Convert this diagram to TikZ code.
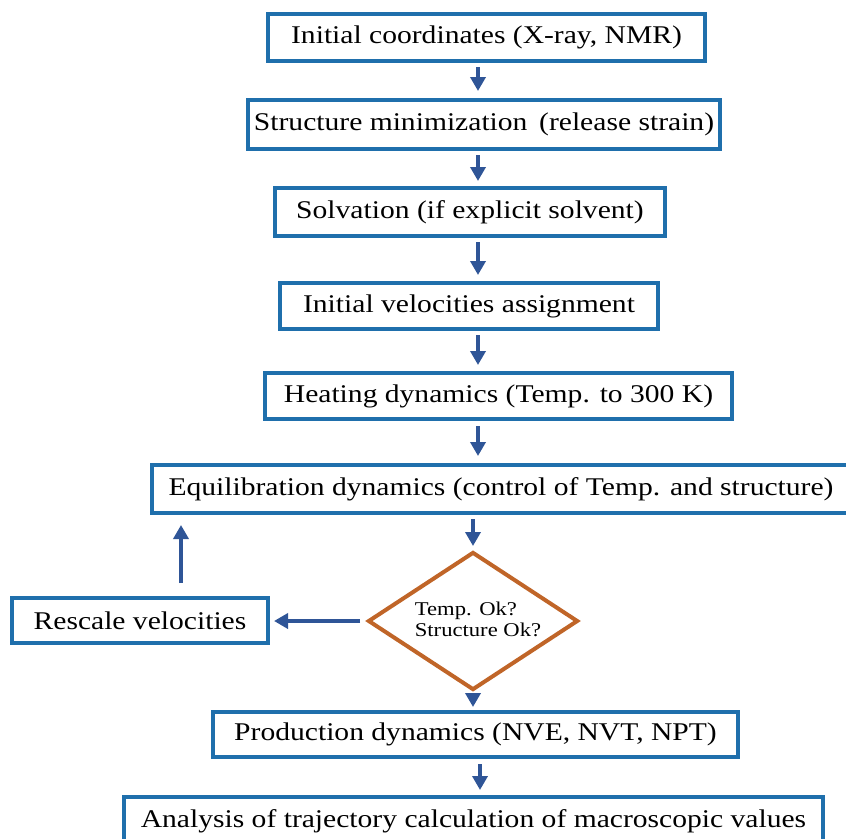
\documentclass[tikz,border=0pt]{standalone}
\usepackage{fontspec}
\setmainfont{Liberation Serif}[FakeStretch=1.16]
\usetikzlibrary{arrows.meta,shapes.geometric}
\definecolor{boxblue}{RGB}{31,111,172}
\definecolor{arrblue}{RGB}{47,85,151}
\definecolor{dorange}{RGB}{192,101,40}
\begin{document}
\begin{tikzpicture}[x=1pt,y=-1pt,
  box/.style={draw=boxblue, line width=4pt, inner sep=0pt, fill=white,
    font=\fontsize{25.5}{28}\selectfont, anchor=center},
  arr/.style={draw=arrblue, line width=4.5pt, -{Triangle[length=14pt,width=15pt]}},
  decision/.style={diamond, draw=dorange, line width=4pt, inner sep=0pt},
  dtext/.style={align=left, inner sep=0pt, font=\fontsize{19.5}{21}\selectfont}]
\useasboundingbox (0,0) rectangle (846,838);
\node[box, minimum width=437pt, minimum height=47pt] (b1) at (486.5,37.5) {Initial coordinates (X-ray, NMR)};
\node[box, minimum width=472pt, minimum height=49pt] (b2) at (484,124.5) {Structure minimization\, (release strain)};
\node[box, minimum width=390pt, minimum height=48pt] (b3) at (470,212) {Solvation (if explicit solvent)};
\node[box, minimum width=378pt, minimum height=46pt] (b4) at (469,306) {Initial velocities assignment};
\node[box, minimum width=467pt, minimum height=46pt] (b5) at (498.5,396) {Heating dynamics (Temp. to 300 K)};
\node[box, minimum width=698pt, minimum height=48pt] (b6) at (501,489) {Equilibration dynamics (control of Temp. and structure)\hspace{6pt}};
\node[decision, minimum width=210pt, minimum height=138pt] (d) at (473,621) {};
\node[dtext] (dt) at (478,619) {Temp. Ok?\\Structure Ok?};
\node[box, minimum width=256pt, minimum height=45pt] (rs) at (140,620.5) {Rescale velocities};
\node[box, minimum width=525pt, minimum height=45pt] (b7) at (475.5,734.5) {Production dynamics (NVE, NVT, NPT)};
\node[box, minimum width=699pt, minimum height=48pt] (b8) at (473.5,821) {\raisebox{2pt}{Analysis of trajectory calculation of macroscopic values}};
\coordinate (c1) at (478,0);
\coordinate (c2) at (473,0);
\coordinate (c3) at (480,0);
\coordinate (c4) at (181,0);
\draw[arr, shorten <=4pt, shorten >=7pt] (b1.south -| c1) -- (b2.north -| c1);
\draw[arr, shorten <=4pt, shorten >=5pt] (b2.south -| c1) -- (b3.north -| c1);
\draw[arr, shorten <=4pt, shorten >=6pt] (b3.south -| c1) -- (b4.north -| c1);
\draw[arr, shorten <=4pt, shorten >=6pt] (b4.south -| c1) -- (b5.north -| c1);
\draw[arr, shorten <=5pt, shorten >=7pt] (b5.south -| c1) -- (b6.north -| c1);
\draw[arr, shorten <=4pt, shorten >=4pt] (b6.south -| c2) -- (d.north);
\draw[arr, shorten <=2pt, shorten >=3pt] (d.south) -- (b7.north -| c2);
\draw[arr, shorten <=5pt, shorten >=5pt] (b7.south -| c3) -- (b8.north -| c3);
\draw[arr, shorten <=6pt, shorten >=4pt] (d.west) -- (d.west -| rs.east);
\draw[arr, shorten <=13pt, shorten >=10pt] (rs.north -| c4) -- (b6.south -| c4);
\end{tikzpicture}
\end{document}
